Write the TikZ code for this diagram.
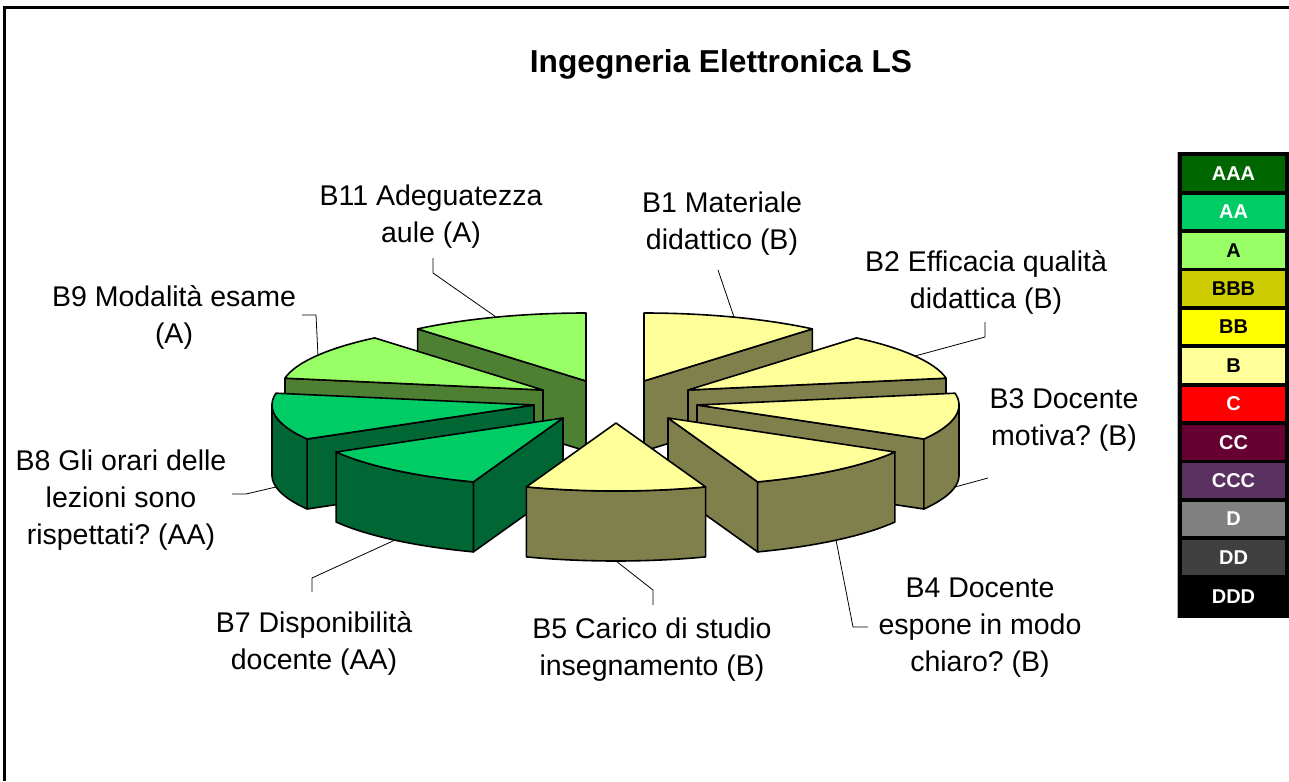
\documentclass[tikz,border=0pt]{standalone}
\usepackage{fontspec}
\setmainfont{Liberation Sans}
\frenchspacing
\definecolor{cAAA}{RGB}{0,102,0}
\definecolor{cAA}{RGB}{0,204,102}
\definecolor{cA}{RGB}{153,255,102}
\definecolor{cBBB}{RGB}{204,204,0}
\definecolor{cBB}{RGB}{255,255,0}
\definecolor{cB}{RGB}{255,255,153}
\definecolor{cC}{RGB}{255,0,0}
\definecolor{cCC}{RGB}{102,0,51}
\definecolor{cCCC}{RGB}{90,50,98}
\definecolor{cD}{RGB}{128,128,128}
\definecolor{cDD}{RGB}{64,64,64}
\definecolor{cDDD}{RGB}{0,0,0}
\definecolor{sB}{RGB}{128,128,77}
\definecolor{sA}{RGB}{77,128,51}
\definecolor{sAA}{RGB}{0,102,51}
\newcommand{\pieTop}[5]{\filldraw[fill=#5,slice] (#1,#2) -- plot[domain=#3:#4,samples=40] ({#1+262*sin(\x)},{#2-68*cos(\x)}) -- cycle;}
\newcommand{\pieBand}[5]{\filldraw[fill=#5,slice] plot[domain=#3:#4,samples=40] ({#1+262*sin(\x)},{#2-68*cos(\x)}) -- plot[domain=#4:#3,samples=40] ({#1+262*sin(\x)},{#2-68*cos(\x)+70}) -- cycle;}
\newcommand{\pieRadial}[4]{\filldraw[fill=#4,slice] (#1,#2) -- ({#1+262*sin(#3)},{#2-68*cos(#3)}) -- ({#1+262*sin(#3)},{#2-68*cos(#3)+70}) -- (#1,{#2+70}) -- cycle;}
\tikzset{
  slice/.style={draw=black,line width=1.6pt,line join=round},
  lbl/.style={align=center,inner sep=0pt,font=\fontsize{28.5}{37}\selectfont},
  leader/.style={draw=black,line width=0.8pt},
  legcell/.style={minimum width=103pt,minimum height=34.5pt,inner sep=0pt,font=\bfseries\fontsize{20}{22}\selectfont}
}
\begin{document}
\begin{tikzpicture}[x=1pt,y=-1pt]
\useasboundingbox (0,0) rectangle (1289,781);
\fill[white] (0,0) rectangle (1289,781);
% frame
\draw[line width=3pt] (4.5,781) -- (4.5,7.5) -- (1289,7.5);
% title
\node[font=\bfseries\fontsize{31.7}{38}\selectfont] (title) at (721,64) {Ingegneria Elettronica LS};

% ---- pie slices (back to front) ----
% B1
\pieRadial{644}{381}{40}{sB}
\pieTop{644}{381}{0}{40}{cB}
% B11
\pieRadial{586}{381}{320}{sA}
\pieTop{586}{381}{320}{360}{cA}
% B2
\pieRadial{688}{390}{80}{sB}
\pieTop{688}{390}{40}{80}{cB}
% B9
\pieRadial{543}{390}{280}{sA}
\pieTop{543}{390}{280}{320}{cA}
% B3
\pieRadial{697}{405}{120}{sB}
\pieBand{697}{405}{90}{120}{sB}
\pieTop{697}{405}{80}{120}{cB}
% B8
\pieRadial{534}{405}{240}{sAA}
\pieBand{534}{405}{240}{270}{sAA}
\pieTop{534}{405}{240}{280}{cAA}
% B4
\pieRadial{668}{418}{160}{sB}
\pieBand{668}{418}{120}{160}{sB}
\pieTop{668}{418}{120}{160}{cB}
% B7
\pieRadial{563}{418}{200}{sAA}
\pieBand{563}{418}{200}{240}{sAA}
\pieTop{563}{418}{200}{240}{cAA}
% B5
\pieBand{616}{423}{160}{200}{sB}
\pieTop{616}{423}{160}{200}{cB}

% ---- labels ----
\node[lbl] (lb11) at (431,217) {B11 Adeguatezza\\aule (A)};
\node[lbl] (lb1) at (722,224) {B1 Materiale\\didattico (B)};
\node[lbl] (lb2) at (986,282) {B2 Efficacia qualità\\didattica (B)};
\node[lbl] (lb9) at (174,317) {B9 Modalità esame\\(A)};
\node[lbl] (lb3) at (1064,420) {B3 Docente\\motiva? (B)};
\node[lbl] (lb8) at (121,500) {B8 Gli orari delle\\lezioni sono\\rispettati? (AA)};
\node[lbl] (lb7) at (314,643) {B7 Disponibilità\\docente (AA)};
\node[lbl] (lb5) at (652,650) {B5 Carico di studio\\insegnamento (B)};
\node[lbl] (lb4) at (980,628) {B4 Docente\\espone in modo\\chiaro? (B)};

% ---- leader lines ----
\coordinate (p11a) at (433,258); \coordinate (p11b) at (433,273); \coordinate (p11e) at (496,317);
\coordinate (p1a) at (718,270); \coordinate (p1e) at (734,317);
\coordinate (p2a) at (985,322); \coordinate (p2b) at (985,337); \coordinate (p2e) at (915,356);
\coordinate (p9a) at (302,315); \coordinate (p9b) at (316,315); \coordinate (p9e) at (318,356);
\coordinate (p3a) at (988,478); \coordinate (p3e) at (955,487);
\coordinate (p4e) at (836,540); \coordinate (p4b) at (853,627); \coordinate (p4a) at (868,627);
\coordinate (p5e) at (616,561); \coordinate (p5b) at (653,590); \coordinate (p5a) at (653,605);
\coordinate (p7e) at (395,540); \coordinate (p7b) at (312,578); \coordinate (p7a) at (312,592);
\coordinate (p8e) at (276,487); \coordinate (p8b) at (246,494); \coordinate (p8a) at (232,494);
\draw[leader] (p11a) -- (p11b) -- (p11e);
\draw[leader] (p1a) -- (p1e);
\draw[leader] (p2a) -- (p2b) -- (p2e);
\draw[leader] (p9a) -- (p9b) -- (p9e);
\draw[leader] (p3a) -- (p3e);
\draw[leader] (p4a) -- (p4b) -- (p4e);
\draw[leader] (p5a) -- (p5b) -- (p5e);
\draw[leader] (p7a) -- (p7b) -- (p7e);
\draw[leader] (p8a) -- (p8b) -- (p8e);

% ---- legend ----
\fill[black] (1178,152) rectangle (1289,618);
\draw[gray!60,line width=0.8pt] (1177.5,152) -- (1177.5,618);
\node[legcell,fill=cAAA,text=white] (gAAA) at (1233.5,173.5) {AAA};
\node[legcell,fill=cAA,text=white] (gAA) at (1233.5,211.9) {AA};
\node[legcell,fill=cA,text=black] (gA) at (1233.5,250.3) {A};
\node[legcell,fill=cBBB,text=black] (gBBB) at (1233.5,288.7) {BBB};
\node[legcell,fill=cBB,text=black] (gBB) at (1233.5,327.1) {BB};
\node[legcell,fill=cB,text=black] (gB) at (1233.5,365.5) {B};
\node[legcell,fill=cC,text=white] (gC) at (1233.5,403.9) {C};
\node[legcell,fill=cCC,text=white] (gCC) at (1233.5,442.3) {CC};
\node[legcell,fill=cCCC,text=white] (gCCC) at (1233.5,480.7) {CCC};
\node[legcell,fill=cD,text=white] (gD) at (1233.5,519.1) {D};
\node[legcell,fill=cDD,text=white] (gDD) at (1233.5,557.5) {DD};
\node[legcell,fill=cDDD,text=white] (gDDD) at (1233.5,597) {DDD};
\end{tikzpicture}
\end{document}
